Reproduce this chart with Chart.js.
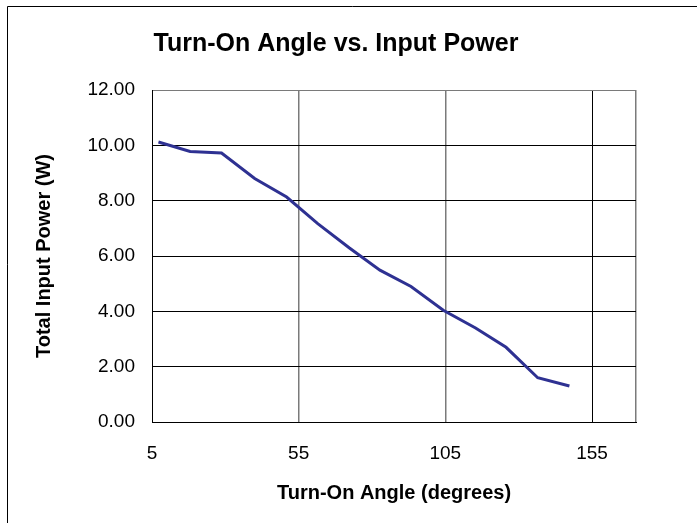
<!DOCTYPE html>
<html lang="en">
<head>
<meta charset="UTF-8">
<title>Turn-On Angle vs. Input Power</title>
<script src="https://cdn.jsdelivr.net/npm/chart.js"></script>
<style>
  body { margin: 0; background: #fff; }
  canvas { display: block; }
</style>
</head>
<body>

<canvas id="power-chart" width="697" height="523"></canvas>

<script>
// valores
var angles = [7.2, 18.0, 28.7, 40.0, 50.9, 61.5, 72.2, 82.7, 93.3, 104.3, 115.3, 125.7, 136.5, 147.3];
var power = [10.12, 9.78, 9.72, 8.80, 8.13, 7.17, 6.30, 5.49, 4.90, 4.04, 3.40, 2.70, 1.60, 1.30];
var xTicks = [5, 55, 105, 155, 170];
var yTicks = [0, 2, 4, 6, 8, 10, 12];

var points = angles.map(function(a, i) {
    return { x: a, y: power[i] };
});

// marco exterior (solo arriba e izquierda)
var framePlugin = {
    id: 'frame',
    afterDraw: function(chart) {
        var ctx = chart.ctx;
        ctx.save();
        ctx.strokeStyle = '#000';
        ctx.lineWidth = 1;
        ctx.beginPath();
        ctx.moveTo(7.5, 523);
        ctx.lineTo(7.5, 6.5);
        ctx.lineTo(697, 6.5);
        ctx.stroke();
        ctx.restore();
    }
};

var ctx = document.getElementById('power-chart').getContext('2d');
var chart = new Chart(ctx, {
    type: 'scatter',
    data: {
        datasets: [{
            label: 'Total Input Power',
            data: points,
            showLine: true,
            borderColor: '#2E3192',
            borderWidth: 3,
            pointRadius: 0,
            fill: false
        }]
    },
    options: {
        responsive: false,
        animation: false,
        layout: { padding: { left: 36, right: 61, top: 0, bottom: 0 } },
        plugins: {
            legend: { display: false },
            tooltip: { enabled: false },
            title: {
                display: true,
                text: 'Turn-On Angle vs. Input Power',
                color: '#000',
                font: { family: 'Liberation Sans, Arial', size: 25, weight: 'bold', lineHeight: 1.2 },
                padding: { top: 29, bottom: 31 }
            }
        },
        scales: {
            x: {
                type: 'linear',
                min: 5,
                max: 170,
                afterBuildTicks: function(axis) {
                    axis.ticks = xTicks.map(function(v) { return { value: v }; });
                },
                afterFit: function(scale) { scale.height = 101; },
                ticks: {
                    color: '#000',
                    padding: 20,
                    maxRotation: 0,
                    autoSkip: false,
                    font: { family: 'Liberation Sans, Arial', size: 19 },
                    callback: function(v) { return v === 170 ? '' : v; }
                },
                grid: {
                    drawTicks: false,
                    lineWidth: function(c) {
                        var v = c.tick ? c.tick.value : null;
                        return (v === 55 || v === 105 || v === 170) ? 1.5 : 1;
                    },
                    color: function(c) {
                        var v = c.tick ? c.tick.value : null;
                        if (v === 55 || v === 105 || v === 170) return '#7a7a7a';
                        return '#000';
                    }
                },
                border: { display: true, color: '#000', width: 1 },
                title: {
                    display: true,
                    text: 'Turn-On Angle (degrees)',
                    color: '#000',
                    font: { family: 'Liberation Sans, Arial', size: 20, weight: 'bold', lineHeight: 1.2 },
                    padding: { top: 0, bottom: 18 }
                }
            },
            y: {
                min: 0,
                max: 12,
                afterBuildTicks: function(axis) {
                    axis.ticks = yTicks.map(function(v) { return { value: v }; });
                },
                afterFit: function(scale) { scale.width = 116; },
                ticks: {
                    color: '#000',
                    padding: 17,
                    font: { family: 'Liberation Sans, Arial', size: 19 },
                    callback: function(v) { return Number(v).toFixed(2); }
                },
                grid: {
                    drawTicks: false,
                    lineWidth: 1,
                    color: function(c) {
                        var v = c.tick ? c.tick.value : null;
                        return v === 12 ? '#7a7a7a' : '#000';
                    }
                },
                border: { display: true, color: '#000', width: 1 },
                title: {
                    display: true,
                    text: 'Total Input Power (W)',
                    color: '#000',
                    font: { family: 'Liberation Sans, Arial', size: 20, weight: 'bold', lineHeight: 0.8 },
                    padding: 0
                }
            }
        }
    },
    plugins: [framePlugin]
});
</script>

</body>
</html>
